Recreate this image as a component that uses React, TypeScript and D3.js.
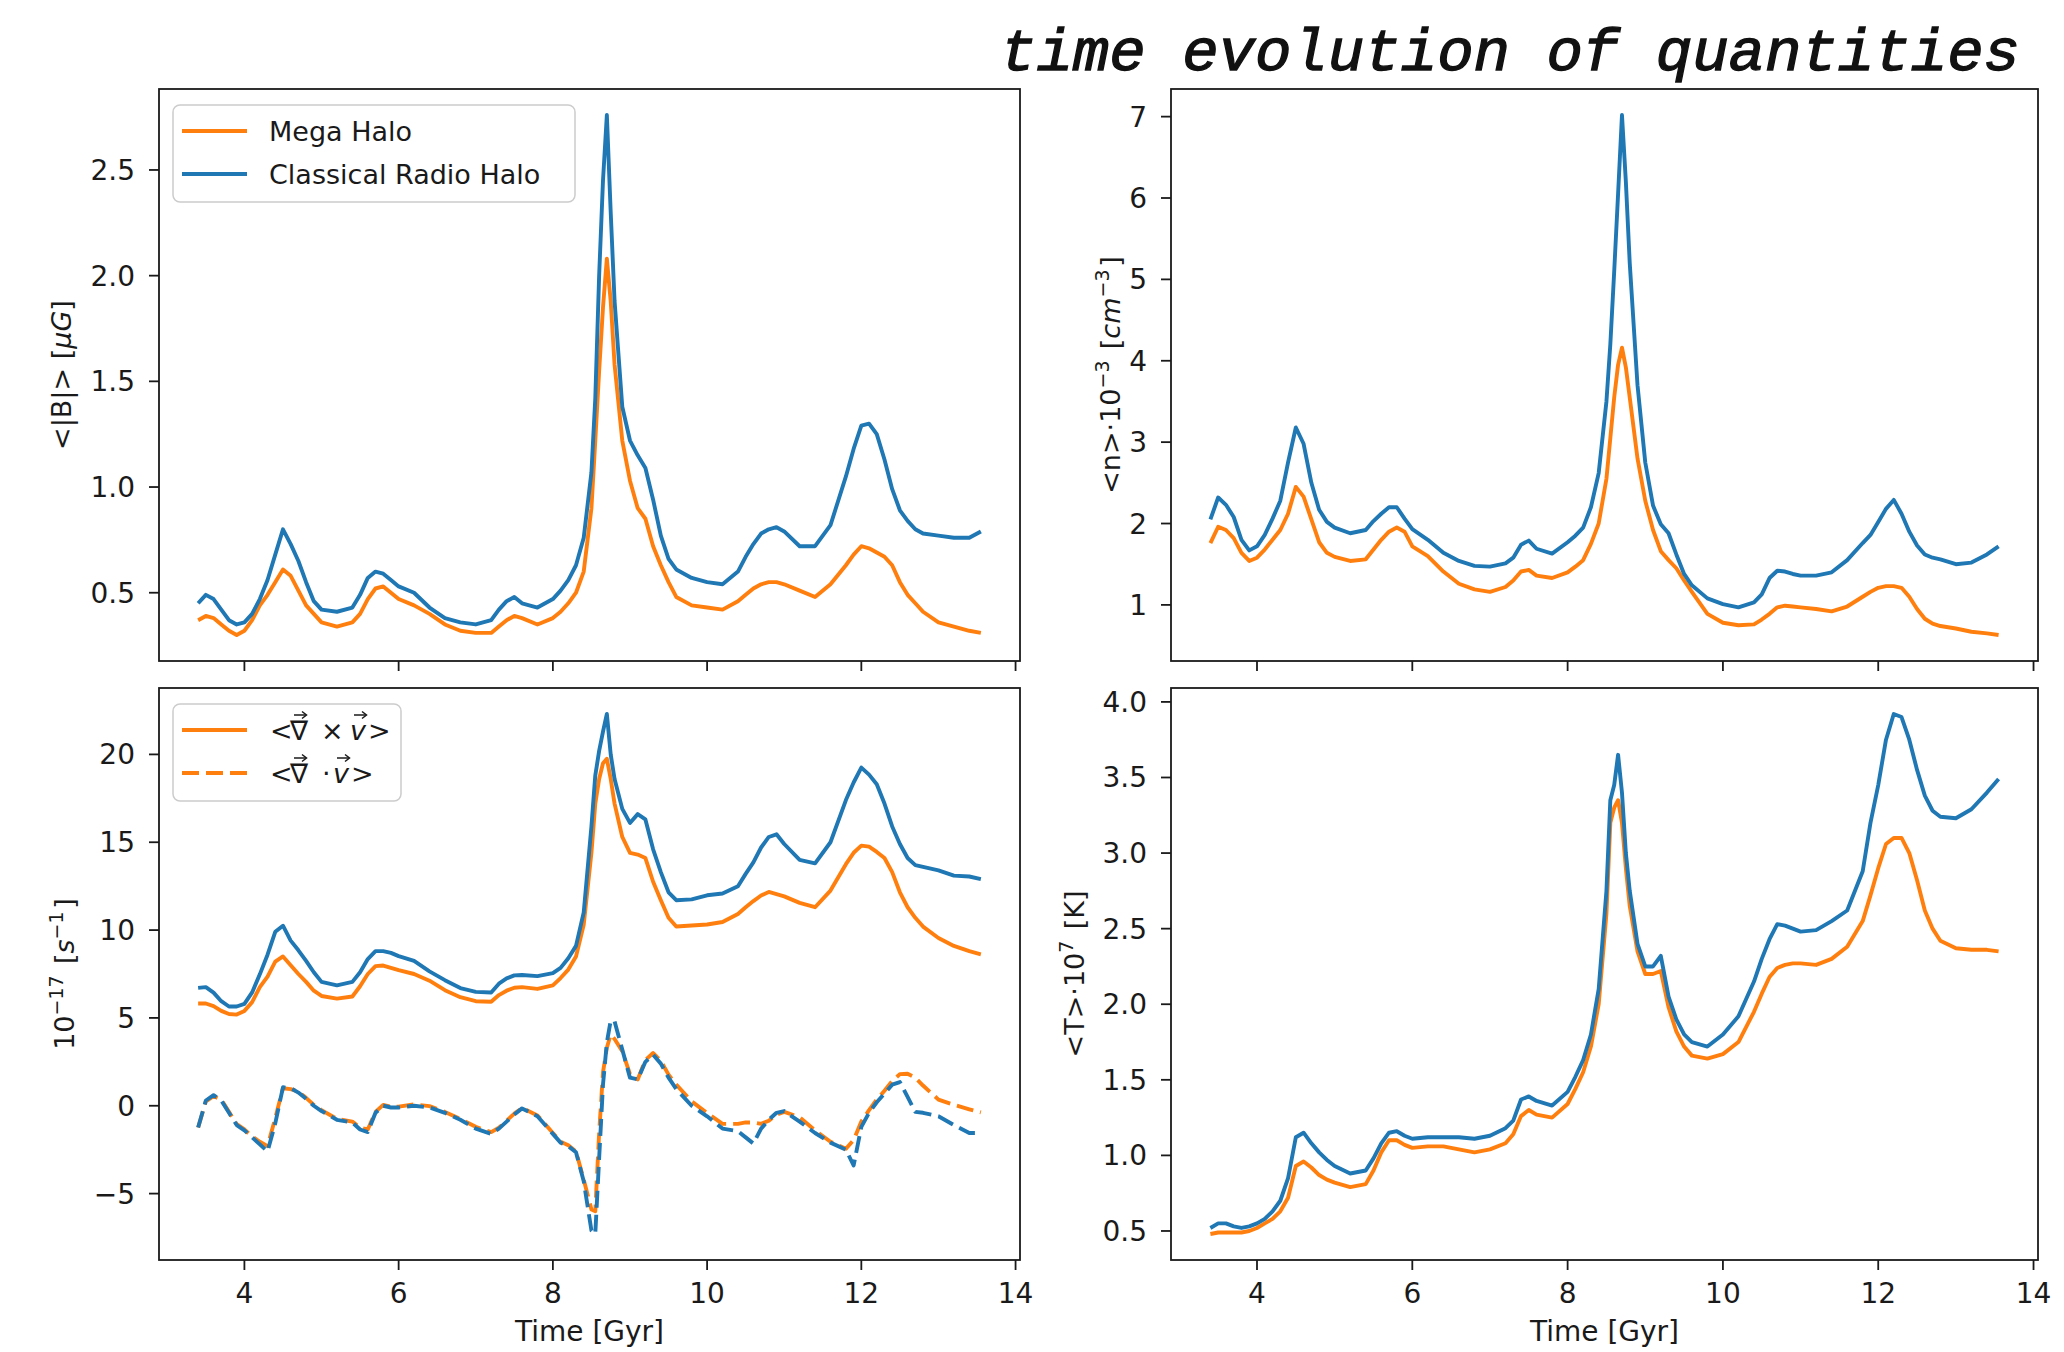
import React from "react";
import * as d3 from "d3";

// sample times [Gyr], shared by every panel
const time = [3.4,3.5,3.6,3.7,3.8,3.9,4.0,4.1,4.2,4.3,4.4,4.5,4.6,4.7,4.8,4.9,5.0,5.2,5.4,5.5,5.6,5.7,5.8,5.9,6.0,6.2,6.4,6.6,6.8,7.0,7.2,7.3,7.4,7.5,7.6,7.8,8.0,8.1,8.2,8.3,8.4,8.5,8.55,8.6,8.65,8.7,8.75,8.8,8.9,9.0,9.1,9.2,9.3,9.4,9.5,9.6,9.8,10.0,10.2,10.4,10.5,10.6,10.7,10.8,10.9,11.0,11.2,11.4,11.6,11.8,11.9,12.0,12.1,12.2,12.3,12.4,12.5,12.6,12.7,12.8,13.0,13.2,13.4,13.55];

// <|B|> [uG]
const bMega = [0.37,0.39,0.38,0.35,0.32,0.30,0.32,0.37,0.44,0.49,0.55,0.61,0.58,0.51,0.44,0.40,0.36,0.34,0.36,0.40,0.47,0.52,0.53,0.50,0.47,0.44,0.40,0.35,0.32,0.31,0.31,0.34,0.37,0.39,0.38,0.35,0.38,0.41,0.45,0.50,0.60,0.90,1.22,1.55,1.85,2.08,1.88,1.58,1.22,1.03,0.90,0.85,0.72,0.63,0.55,0.48,0.44,0.43,0.42,0.46,0.49,0.52,0.54,0.55,0.55,0.54,0.51,0.48,0.54,0.63,0.68,0.72,0.71,0.69,0.67,0.63,0.55,0.49,0.45,0.41,0.36,0.34,0.32,0.31];
const bCrh = [0.45,0.49,0.47,0.42,0.37,0.35,0.36,0.40,0.47,0.56,0.68,0.80,0.73,0.65,0.55,0.46,0.42,0.41,0.43,0.49,0.57,0.60,0.59,0.56,0.53,0.50,0.43,0.38,0.36,0.35,0.37,0.42,0.46,0.48,0.45,0.43,0.47,0.51,0.56,0.63,0.76,1.07,1.42,2.00,2.45,2.76,2.30,1.88,1.38,1.22,1.15,1.09,0.94,0.77,0.66,0.61,0.57,0.55,0.54,0.60,0.67,0.73,0.78,0.80,0.81,0.79,0.72,0.72,0.82,1.05,1.18,1.29,1.30,1.25,1.13,0.99,0.89,0.84,0.80,0.78,0.77,0.76,0.76,0.79];

// <n> 1e-3 cm^-3
const nMega = [1.76,1.96,1.92,1.82,1.64,1.54,1.58,1.68,1.80,1.92,2.12,2.45,2.33,2.05,1.77,1.64,1.59,1.54,1.56,1.68,1.80,1.90,1.95,1.90,1.72,1.60,1.41,1.26,1.19,1.16,1.22,1.30,1.41,1.43,1.36,1.33,1.40,1.47,1.55,1.75,2.00,2.55,3.05,3.55,3.95,4.16,3.92,3.55,2.80,2.28,1.92,1.66,1.55,1.45,1.30,1.16,0.89,0.78,0.75,0.76,0.82,0.89,0.97,0.99,0.98,0.97,0.95,0.92,0.98,1.10,1.16,1.21,1.23,1.23,1.21,1.10,0.95,0.83,0.77,0.74,0.71,0.67,0.65,0.63];
const nCrh = [2.05,2.32,2.23,2.08,1.80,1.67,1.72,1.86,2.06,2.28,2.75,3.18,2.98,2.50,2.17,2.02,1.95,1.88,1.92,2.03,2.12,2.20,2.20,2.06,1.93,1.80,1.64,1.54,1.48,1.47,1.51,1.58,1.74,1.79,1.69,1.63,1.77,1.85,1.95,2.20,2.62,3.50,4.20,5.10,6.05,7.02,6.20,5.20,3.70,2.75,2.22,1.99,1.88,1.62,1.38,1.24,1.08,1.01,0.97,1.03,1.13,1.33,1.42,1.41,1.38,1.36,1.36,1.40,1.55,1.76,1.86,2.02,2.18,2.29,2.12,1.90,1.73,1.62,1.58,1.56,1.50,1.52,1.62,1.72];

// vorticity (solid) and divergence (dashed), 1e-17 s^-1
const curlMega = [5.82,5.82,5.67,5.40,5.22,5.19,5.40,5.90,6.75,7.35,8.20,8.50,8.00,7.50,7.05,6.55,6.25,6.10,6.22,6.80,7.50,7.95,7.98,7.85,7.72,7.50,7.12,6.58,6.18,5.95,5.92,6.30,6.55,6.72,6.75,6.65,6.85,7.27,7.75,8.50,10.3,14.4,17.2,18.6,19.5,19.75,18.6,17.2,15.3,14.4,14.3,14.1,12.75,11.7,10.7,10.2,10.26,10.32,10.46,10.92,11.3,11.65,11.97,12.17,12.05,11.92,11.55,11.30,12.25,13.75,14.4,14.81,14.75,14.45,14.1,13.3,12.15,11.3,10.7,10.2,9.55,9.10,8.80,8.62];
const curlCrh = [6.71,6.75,6.44,5.95,5.65,5.65,5.80,6.45,7.48,8.60,9.90,10.25,9.40,8.85,8.25,7.60,7.05,6.85,7.05,7.60,8.35,8.80,8.80,8.70,8.52,8.25,7.65,7.15,6.70,6.48,6.45,6.95,7.25,7.42,7.44,7.38,7.55,7.85,8.40,9.10,11.0,15.9,18.8,20.2,21.3,22.3,20.0,18.6,16.9,16.1,16.6,16.3,14.6,13.3,12.15,11.7,11.75,11.98,12.08,12.5,13.2,13.85,14.7,15.3,15.45,14.9,14.0,13.8,15.0,17.4,18.4,19.25,18.85,18.3,17.2,15.9,14.9,14.1,13.7,13.6,13.4,13.1,13.05,12.9];
const divMega = [-1.24,0.25,0.55,0.35,-0.35,-1.05,-1.35,-1.75,-2.05,-2.30,-0.70,1.00,0.95,0.80,0.45,0.05,-0.25,-0.75,-0.90,-1.25,-1.35,-0.35,0.05,-0.05,-0.05,0.08,-0.02,-0.35,-0.75,-1.20,-1.50,-1.25,-0.85,-0.45,-0.12,-0.55,-1.55,-2.05,-2.25,-2.60,-4.20,-5.90,-6.00,-1.55,1.90,3.30,4.05,3.80,3.10,1.80,1.50,2.60,3.00,2.55,1.77,1.20,0.25,-0.42,-1.03,-1.03,-0.95,-0.95,-1.03,-0.85,-0.50,-0.35,-0.65,-1.40,-2.05,-2.45,-1.95,-0.90,-0.25,0.35,0.85,1.40,1.80,1.82,1.60,1.15,0.35,0.05,-0.20,-0.38];
const divCrh = [-1.24,0.30,0.60,0.30,-0.40,-1.10,-1.40,-1.80,-2.20,-2.60,-1.00,1.05,1.00,0.75,0.40,0.00,-0.30,-0.80,-0.95,-1.35,-1.50,-0.40,0.00,-0.10,-0.10,0.00,-0.10,-0.40,-0.80,-1.30,-1.60,-1.30,-0.90,-0.50,-0.15,-0.60,-1.60,-2.10,-2.30,-2.65,-4.30,-7.10,-7.30,-3.00,1.20,3.60,4.85,4.80,3.20,1.60,1.50,2.50,2.90,2.40,1.60,0.95,0.00,-0.60,-1.30,-1.45,-1.80,-2.15,-1.30,-0.80,-0.40,-0.30,-0.90,-1.55,-2.10,-2.50,-3.40,-1.20,-0.40,0.20,0.70,1.20,1.35,0.50,-0.35,-0.40,-0.60,-1.10,-1.55,-1.55];

// <T> 1e7 K
const tMega = [0.48,0.49,0.49,0.49,0.49,0.50,0.52,0.55,0.58,0.63,0.72,0.93,0.96,0.92,0.87,0.84,0.82,0.79,0.81,0.90,1.02,1.10,1.10,1.07,1.05,1.06,1.06,1.04,1.02,1.04,1.08,1.14,1.26,1.30,1.27,1.25,1.34,1.44,1.55,1.72,2.00,2.60,3.20,3.30,3.35,3.20,2.90,2.65,2.35,2.20,2.20,2.22,1.98,1.82,1.72,1.66,1.64,1.67,1.75,1.95,2.07,2.18,2.24,2.26,2.27,2.27,2.26,2.30,2.38,2.55,2.72,2.90,3.06,3.10,3.10,3.00,2.82,2.62,2.50,2.42,2.37,2.36,2.36,2.35];
const tCrh = [0.52,0.55,0.55,0.53,0.52,0.53,0.55,0.58,0.63,0.70,0.85,1.12,1.15,1.08,1.02,0.97,0.93,0.88,0.90,0.98,1.08,1.15,1.16,1.13,1.11,1.12,1.12,1.12,1.11,1.13,1.18,1.23,1.37,1.39,1.36,1.33,1.42,1.52,1.63,1.80,2.10,2.75,3.35,3.45,3.65,3.40,3.00,2.75,2.40,2.25,2.25,2.32,2.05,1.90,1.80,1.75,1.72,1.80,1.92,2.15,2.30,2.43,2.53,2.52,2.50,2.48,2.49,2.55,2.62,2.88,3.20,3.45,3.75,3.92,3.90,3.75,3.55,3.38,3.28,3.24,3.23,3.29,3.40,3.49];

const xTicks = [4, 6, 8, 10, 12, 14];
const bTicks = [0.5, 1.0, 1.5, 2.0, 2.5];
const nTicks = [1, 2, 3, 4, 5, 6, 7];
const wTicks = [-5, 0, 5, 10, 15, 20];
const tTicks = [0.5, 1.0, 1.5, 2.0, 2.5, 3.0, 3.5, 4.0];

const ORANGE = "#ff7f0e";
const BLUE = "#1f77b4";
const FONT = "'DejaVu Sans', sans-serif";
const INK = "#1a1a1a";
const LW = 3.9;
const DASH = "17 7";

const fmt1 = (d) => d.toFixed(1);
const fmt0 = (d) => (d < 0 ? "\u2212" + Math.abs(d) : String(d));

// matplotlib-like auto limits: data extent + 5% margin
function padded(arrs) {
  const lo = d3.min(arrs, (a) => d3.min(a));
  const hi = d3.max(arrs, (a) => d3.max(a));
  const m = (hi - lo) * 0.05;
  return [lo - m, hi + m];
}

// small vector arrow drawn above a glyph
function VecArrow({ cx, y }) {
  return (
    <g stroke={INK} strokeWidth={1.5} fill="none">
      <line x1={cx - 6} x2={cx + 6} y1={y} y2={y} />
      <path d={`M${cx + 2},${y - 3.5} L${cx + 6.5},${y} L${cx + 2},${y + 3.5}`} />
    </g>
  );
}

// "<grad x v>" / "<grad . v>" legend labels laid out glyph by glyph
function VecLabel({ x, y, op }) {
  const vx = op === "cross" ? 80 : 63;
  return (
    <g fontFamily={FONT} fontSize={27} fill={INK}>
      <text x={x} y={y}>{"<"}</text>
      <text x={x + 20} y={y}>{"\u2207"}</text>
      <VecArrow cx={x + 30} y={y - 25} />
      {op === "cross"
        ? <text x={x + 51} y={y}>{"\u00D7"}</text>
        : <text x={x + 52} y={y}>{"\u00B7"}</text>}
      <text x={x + vx} y={y} fontStyle="italic">v</text>
      <VecArrow cx={x + vx + 10} y={y - 25} />
      <text x={x + vx + 18} y={y}>{">"}</text>
    </g>
  );
}

function Panel({ box, series, yTicks, yFmt, xLabels, yLabel, legend }) {
  const [x0, x1, y0, y1] = box;
  const x = d3.scaleLinear().domain(padded([time])).range([x0, x1]);
  const y = d3.scaleLinear().domain(padded(series.map((s) => s.values))).range([y1, y0]);
  const line = d3.line().x((d, i) => x(time[i])).y((d) => y(d));
  const cid = "clip" + x0 + "_" + y0;

  return (
    <g>
      <defs>
        <clipPath id={cid}>
          <rect x={x0} y={y0} width={x1 - x0} height={y1 - y0} />
        </clipPath>
      </defs>
      <g clipPath={`url(#${cid})`}>
        {series.map((s, i) => (
          <path key={i} d={line(s.values)} fill="none" stroke={s.color} strokeWidth={LW}
            strokeDasharray={s.dash ? DASH : null} strokeLinejoin="round" />
        ))}
      </g>
      <rect x={x0} y={y0} width={x1 - x0} height={y1 - y0} fill="none" stroke={INK} strokeWidth={1.8} />
      {xTicks.map((t) => (
        <g key={t}>
          <line x1={x(t)} x2={x(t)} y1={y1} y2={y1 + 10} stroke={INK} strokeWidth={1.8} />
          {xLabels && (
            <text x={x(t)} y={y1 + 43} textAnchor="middle" fontFamily={FONT} fontSize={28} fill={INK}>{t}</text>
          )}
        </g>
      ))}
      {yTicks.map((t) => (
        <g key={t}>
          <line x1={x0 - 10} x2={x0} y1={y(t)} y2={y(t)} stroke={INK} strokeWidth={1.8} />
          <text x={x0 - 24} y={y(t) + 10} textAnchor="end" fontFamily={FONT} fontSize={28} fill={INK}>{yFmt(t)}</text>
        </g>
      ))}
      {xLabels && (
        <text x={(x0 + x1) / 2} y={1341} textAnchor="middle" fontFamily={FONT} fontSize={28} fill={INK}>Time [Gyr]</text>
      )}
      <text transform={`translate(${yLabel.x},${(y0 + y1) / 2}) rotate(-90)`} textAnchor="middle"
        fontFamily={FONT} fontSize={27} fill={INK}>{yLabel.content}</text>
      {legend && (
        <g>
          <rect x={x0 + 14} y={y0 + 16} width={legend.w} height={97} rx={7} fill="white" fillOpacity={0.85}
            stroke="#cccccc" strokeWidth={1.5} />
          {legend.items.map((it, i) => (
            <g key={i}>
              <line x1={x0 + 23} x2={x0 + 88} y1={y0 + 42 + i * 43} y2={y0 + 42 + i * 43} stroke={it.color}
                strokeWidth={LW} strokeDasharray={it.dash ? DASH : null} />
              {it.op
                ? <VecLabel x={x0 + 111} y={y0 + 52 + i * 43} op={it.op} />
                : <text x={x0 + 110} y={y0 + 52 + i * 43} fontFamily={FONT} fontSize={27} fill={INK}>{it.label}</text>}
            </g>
          ))}
        </g>
      )}
    </g>
  );
}

const sup = (s, k) => [
  <tspan key={k + "a"} dy={-11} fontSize={19}>{s}</tspan>,
  <tspan key={k + "b"} dy={11}>{"\u200A"}</tspan>,
];

export default function App() {
  const top = [89, 661];
  const bot = [688, 1260];
  const left = [159, 1020];
  const right = [1171, 2038];

  return (
    <svg width={2064} height={1352} style={{ position: "absolute", left: 0, top: 0, background: "white" }}>
      <rect width={2064} height={1352} fill="white" />
      <text x={1000} y={70} fontFamily="'Liberation Mono', monospace" fontStyle="italic" fontSize={60}
        textLength={1020} lengthAdjust="spacingAndGlyphs" fill="#111" stroke="#111" strokeWidth={1.3}>time evolution of quantities</text>

      <Panel box={[left[0], left[1], top[0], top[1]]}
        series={[{ values: bMega, color: ORANGE }, { values: bCrh, color: BLUE }]}
        yTicks={bTicks} yFmt={fmt1} xLabels={false}
        yLabel={{ x: 71, content: [<tspan key="1">{"<|B|> ["}</tspan>, <tspan key="2" fontStyle="italic">{"\u03BCG"}</tspan>, <tspan key="3">]</tspan>] }}
        legend={{ w: 402, items: [{ label: "Mega Halo", color: ORANGE }, { label: "Classical Radio Halo", color: BLUE }] }} />

      <Panel box={[right[0], right[1], top[0], top[1]]}
        series={[{ values: nMega, color: ORANGE }, { values: nCrh, color: BLUE }]}
        yTicks={nTicks} yFmt={fmt0} xLabels={false}
        yLabel={{ x: 1120, content: [<tspan key="1">{"<n>\u00B710"}</tspan>, ...sup("\u22123", "p"), <tspan key="2">{" ["}</tspan>, <tspan key="3" fontStyle="italic">cm</tspan>, ...sup("\u22123", "q"), <tspan key="4">]</tspan>] }} />

      <Panel box={[left[0], left[1], bot[0], bot[1]]}
        series={[{ values: curlMega, color: ORANGE }, { values: curlCrh, color: BLUE },
          { values: divMega, color: ORANGE, dash: true }, { values: divCrh, color: BLUE, dash: true }]}
        yTicks={wTicks} yFmt={fmt0} xLabels={true}
        yLabel={{ x: 74, content: [<tspan key="1">10</tspan>, ...sup("\u221217", "p"), <tspan key="2">{" ["}</tspan>, <tspan key="3" fontStyle="italic">s</tspan>, ...sup("\u22121", "q"), <tspan key="4">]</tspan>] }}
        legend={{ w: 228, items: [
          { op: "cross", color: ORANGE },
          { op: "dot", color: ORANGE, dash: true }] }} />

      <Panel box={[right[0], right[1], bot[0], bot[1]]}
        series={[{ values: tMega, color: ORANGE }, { values: tCrh, color: BLUE }]}
        yTicks={tTicks} yFmt={fmt1} xLabels={true}
        yLabel={{ x: 1084, content: [<tspan key="1">{"<T>\u00B710"}</tspan>, ...sup("7", "p"), <tspan key="2">{" [K]"}</tspan>] }} />
    </svg>
  );
}
